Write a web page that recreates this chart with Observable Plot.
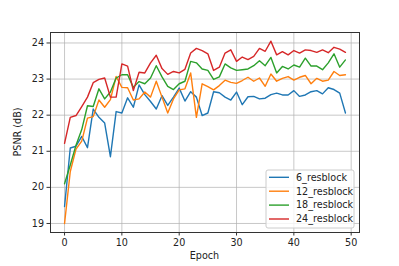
<!DOCTYPE html>
<html>
<head>
<meta charset="utf-8">
<script src="https://cdn.jsdelivr.net/npm/d3@7"></script>
<script src="https://cdn.jsdelivr.net/npm/@observablehq/plot@0.6"></script>
<style>
  html, body { margin: 0; padding: 0; background: white; }
  #chart { width: 399px; height: 266px; }
</style>
</head>
<body>
<div id="chart"></div>
<script>
const epochs = [0,1,2,3,4,5,6,7,8,9,10,11,12,13,14,15,16,17,18,19,20,21,22,23,24,25,26,27,28,29,30,31,32,33,34,35,36,37,38,39,40,41,42,43,44,45,46,47,48,49];
const seriesNames = ["6_resblock", "12_resblock", "18_resblock", "24_resblock"];
const seriesColors = ["#1f77b4", "#ff7f0e", "#2ca02c", "#d62728"];
const xTicks = [0, 10, 20, 30, 40, 50];
const yTicks = [19, 20, 21, 22, 23, 24];

const psnr6 = [19.47,21.09,21.14,21.41,21.10,22.17,21.94,21.78,20.85,22.10,22.06,22.48,22.22,22.84,22.57,22.38,22.17,22.54,22.27,22.50,22.75,22.39,22.65,22.50,21.99,22.06,22.65,22.62,22.50,22.42,22.64,22.29,22.51,22.52,22.45,22.47,22.57,22.61,22.56,22.56,22.68,22.52,22.56,22.65,22.68,22.59,22.76,22.71,22.61,22.06];
const psnr12 = [19.00,20.44,21.06,21.28,21.92,21.96,22.42,22.22,22.43,23.07,22.77,22.76,22.42,22.45,22.64,22.50,22.94,22.50,22.06,22.45,22.70,22.73,23.17,21.94,22.87,22.79,22.70,22.82,22.97,22.91,22.88,22.96,23.05,22.94,23.03,22.80,23.14,22.94,23.02,23.07,22.97,23.05,23.10,22.87,23.02,22.94,22.97,23.21,23.10,23.12];
const psnr18 = [20.10,20.62,21.17,21.60,22.26,22.24,22.73,22.45,22.64,23.03,23.12,23.12,22.77,22.93,22.87,23.03,23.37,23.06,22.80,22.71,22.87,22.94,23.49,23.45,23.28,23.24,22.99,23.06,23.42,23.31,23.24,23.26,23.28,23.37,23.51,23.37,23.60,23.17,23.35,23.28,23.39,23.33,23.58,23.36,23.36,23.26,23.45,23.70,23.33,23.53];
const psnr24 = [21.22,21.94,21.99,22.24,22.50,22.90,22.99,23.03,22.50,22.50,23.42,23.36,22.68,23.19,23.17,23.45,23.66,23.29,23.13,23.21,23.17,23.27,23.72,23.85,23.79,23.70,23.24,23.33,23.72,23.81,23.49,23.61,23.54,23.63,23.85,23.77,24.05,23.67,23.76,23.67,23.79,23.72,23.81,23.79,23.74,23.81,23.73,23.88,23.83,23.74];

const seriesValues = [psnr6, psnr12, psnr18, psnr24];
const data = [];
seriesNames.forEach((name, i) => {
  epochs.forEach((e, j) => data.push({series: name, epoch: e, psnr: seriesValues[i][j]}));
});

const W = 399, H = 266;
const mL = 50, mR = 40, mT = 32, mB = 34;
const FS = "9.6px";

const chart = Plot.plot({
  width: W,
  height: H,
  marginLeft: mL,
  marginRight: mR,
  marginTop: mT,
  marginBottom: mB,
  style: {fontFamily: "DejaVu Sans, sans-serif", fontSize: FS, background: "white", color: "#222"},
  x: {domain: [-2.45, 51.45], label: null},
  y: {domain: [18.75, 24.29], label: null},
  color: {domain: seriesNames, range: seriesColors},
  marks: [
    Plot.ruleX(xTicks, {stroke: "#b0b0b0", strokeOpacity: 0.7, strokeWidth: 1}),
    Plot.ruleY(yTicks, {stroke: "#b0b0b0", strokeOpacity: 0.7, strokeWidth: 1}),
    Plot.line(data, {x: "epoch", y: "psnr", z: "series", stroke: "series", strokeWidth: 1.4}),
    Plot.frame({stroke: "#333", strokeWidth: 1}),
    Plot.axisX({ticks: xTicks, tickFormat: d => String(d), tickSize: 3.5, tickPadding: 3, label: null, stroke: "#333", fill: "#222"}),
    Plot.axisY({ticks: yTicks, tickFormat: d => String(d), tickSize: 3.5, tickPadding: 3, label: null, stroke: "#333", fill: "#222"})
  ]
});

document.getElementById("chart").appendChild(chart);

const svg = d3.select(chart);
const font = "DejaVu Sans, sans-serif";

// Axis titles
svg.append("text")
  .attr("x", mL + (W - mL - mR) / 2)
  .attr("y", 259)
  .attr("text-anchor", "middle")
  .attr("font-family", font)
  .attr("font-size", FS)
  .attr("fill", "#222")
  .text("Epoch");

svg.append("text")
  .attr("transform", `translate(21,${mT + (H - mT - mB) / 2}) rotate(-90)`)
  .attr("text-anchor", "middle")
  .attr("font-family", font)
  .attr("font-size", FS)
  .attr("fill", "#222")
  .text("PSNR (dB)");

// Legend
const lg = svg.append("g");
lg.append("rect")
  .attr("x", 266).attr("y", 170)
  .attr("width", 88).attr("height", 58)
  .attr("rx", 2)
  .attr("fill", "white").attr("fill-opacity", 0.8)
  .attr("stroke", "#cccccc").attr("stroke-width", 1);
seriesNames.forEach((name, i) => {
  const cy = 177.3 + i * 13.9;
  lg.append("line")
    .attr("x1", 269).attr("x2", 289)
    .attr("y1", cy).attr("y2", cy)
    .attr("stroke", seriesColors[i]).attr("stroke-width", 1.4);
  lg.append("text")
    .attr("x", 296).attr("y", cy)
    .attr("dy", "0.35em")
    .attr("text-anchor", "start")
    .attr("font-family", font)
    .attr("font-size", FS)
    .attr("fill", "#222")
    .text(name);
});
</script>
</body>
</html>
